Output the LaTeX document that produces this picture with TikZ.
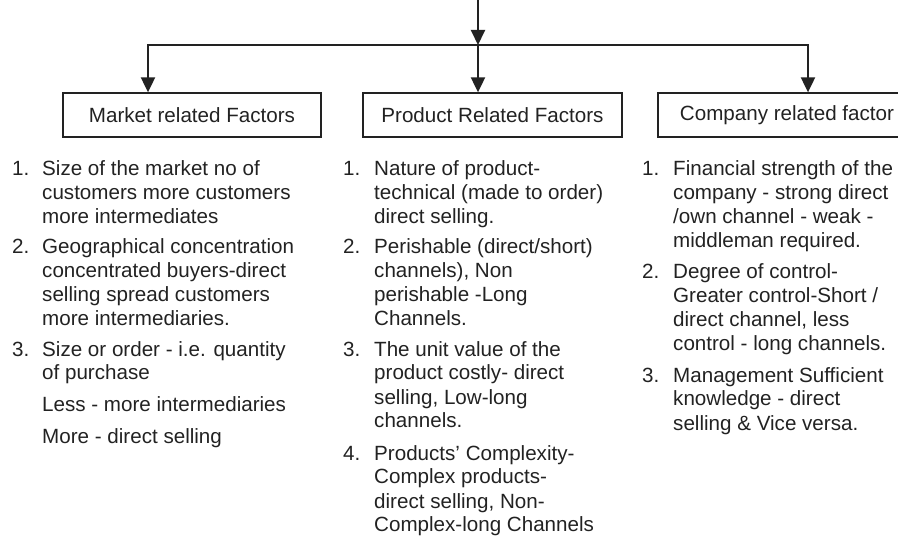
\documentclass[tikz,border=0pt]{standalone}
\usepackage{fontspec}
\setmainfont{Liberation Sans}
\usetikzlibrary{arrows.meta}
\definecolor{ink}{HTML}{222222}
\begin{document}
\begin{tikzpicture}[x=1pt,y=-1pt,
  conn/.style={draw=ink, line width=2pt, -{Triangle[length=15pt,width=14pt]}},
  factorbox/.style={draw=ink, line width=1.3pt, minimum height=44pt, inner sep=0pt,
    font=\fontsize{20.6}{24}\selectfont, text=ink},
  num/.style={anchor=base west, inner sep=0pt, font=\fontsize{20.6}{24}\selectfont, text=ink},
  item/.style={anchor=base west, inner sep=0pt, font=\fontsize{20.6}{24}\selectfont, text=ink},
]
\useasboundingbox (0,0) rectangle (898,540);
\clip (0,0) rectangle (898,540);

% boxes
\node[factorbox, minimum width=258pt] (mbox) at (192,115) {Market related Factors};
\node[factorbox, minimum width=259pt] (pbox) at (492.5,115) {Product Related Factors};
\node[factorbox, minimum width=258pt] (cbox) at (787,115) {Company related factor};

% connectors
\coordinate (top) at (478,0);
\coordinate (hub) at (478,45);
\coordinate (hl) at (148,45);
\coordinate (hr) at (808,45);
\draw[conn] (top) -- (hub);
\draw[conn] (hub) -- (hl) -- (hl |- mbox.north);
\draw[conn] (hub) -- (hr) -- (hr |- cbox.north);
\draw[conn] (hub) -- (hub |- pbox.north);

% market column
\node[num] (mn1) at (12,176) {1.};
\node[item] (mt1) at (42,176) {\parbox[t]{300pt}{Size of the market no of\\customers more customers\\more intermediates}};
\node[num] (mn2) at (12,254) {2.};
\node[item] (mt2) at (42,254) {\parbox[t]{300pt}{Geographical concentration\\concentrated buyers-direct\\selling spread customers\\more intermediaries.}};
\node[num] (mn3) at (12,356) {3.};
\node[item] (mt3) at (42,356) {\parbox[t]{300pt}{Size or order - i.e. quantity\\of purchase}};
\node[item] (mt4) at (42,412) {Less - more intermediaries};
\node[item] (mt5) at (42,443) {More - direct selling};

% product column
\node[num] (pn1) at (343,176) {1.};
\node[item] (pt1) at (374,176) {\parbox[t]{300pt}{Nature of product-\\technical (made to order)\\direct selling.}};
\node[num] (pn2) at (343,254) {2.};
\node[item] (pt2) at (374,254) {\parbox[t]{300pt}{Perishable (direct/short)\\channels), Non\\perishable -Long\\Channels.}};
\node[num] (pn3) at (343,356) {3.};
\node[item] (pt3) at (374,356) {\parbox[t]{300pt}{The unit value of the\\product costly- direct\\selling, Low-long\\channels.}};
\node[num] (pn4) at (343,460) {4.};
\node[item] (pt4) at (374,460) {\parbox[t]{300pt}{Products' Complexity-\\Complex products-\\direct selling, Non-\\Complex-long Channels}};

% company column
\node[num] (cn1) at (642,176) {1.};
\node[item] (ct1) at (673,176) {\parbox[t]{300pt}{Financial strength of the\\company - strong direct\\/own channel - weak -\\middleman required.}};
\node[num] (cn2) at (642,279) {2.};
\node[item] (ct2) at (673,279) {\parbox[t]{300pt}{Degree of control-\\Greater control-Short /\\direct channel, less\\control - long channels.}};
\node[num] (cn3) at (642,382) {3.};
\node[item] (ct3) at (673,382) {\parbox[t]{300pt}{Management Sufficient\\knowledge - direct\\selling \& Vice versa.}};
\end{tikzpicture}
\end{document}
